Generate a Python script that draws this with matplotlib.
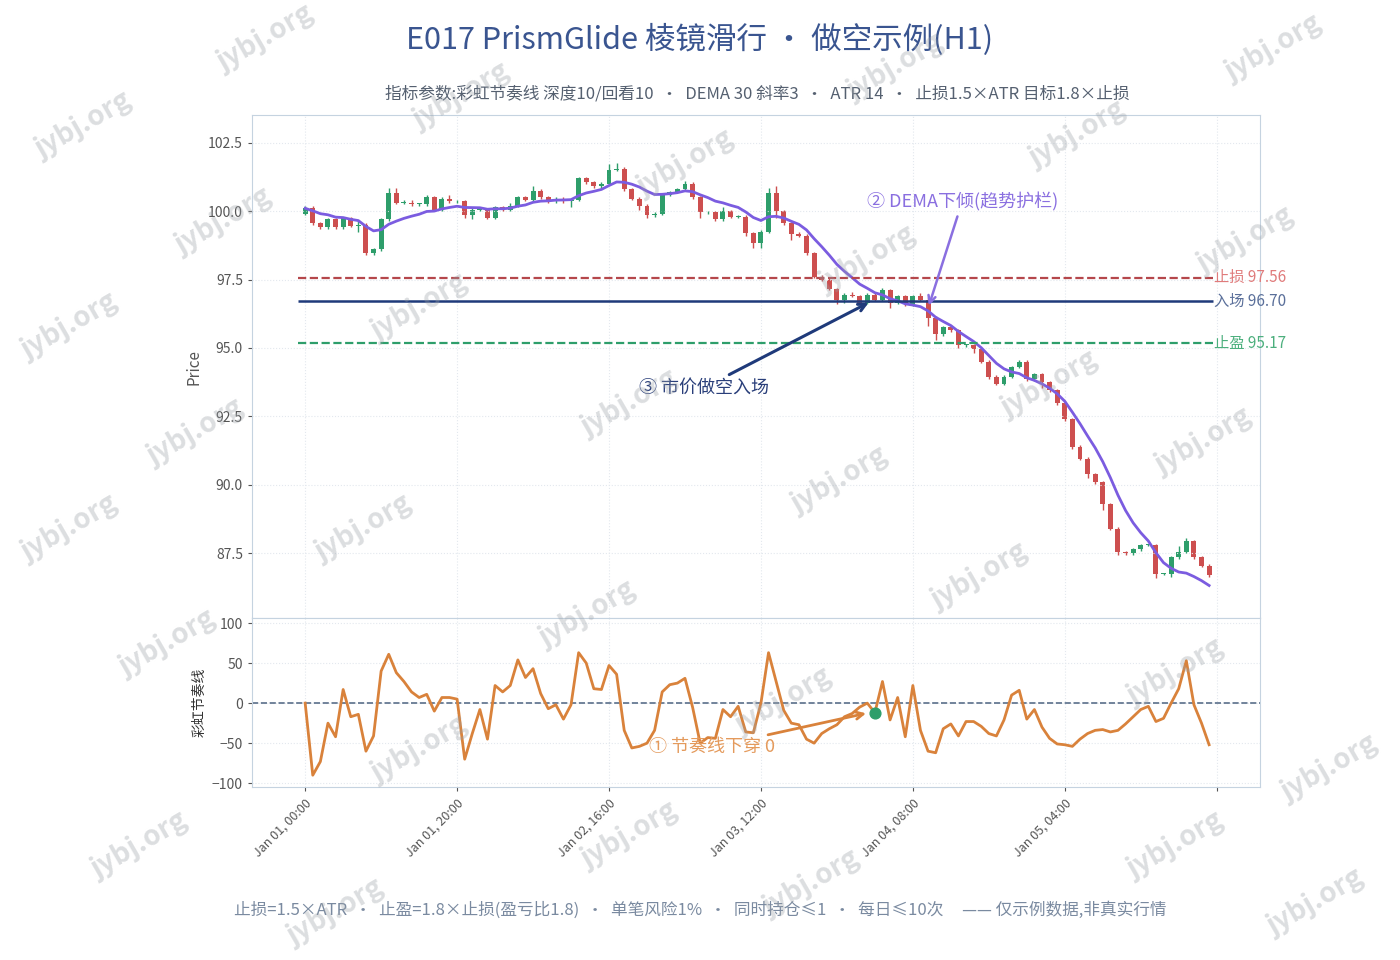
import numpy as np
import pandas as pd
import matplotlib
matplotlib.use('Agg')
import matplotlib.pyplot as plt

plt.rcParams['font.family'] = ['Noto Sans CJK SC', 'DejaVu Sans']
plt.rcParams['font.weight'] = 'light'

# 收盘价 (H1, 120 根)
close = [100.1, 99.55, 99.4, 99.7, 99.4, 99.75, 99.45, 99.5, 98.45, 98.6,
         99.7, 100.65, 100.3, 100.3, 100.25, 100.25, 100.5, 100.05, 100.45, 100.35,
         100.35, 99.85, 100.05, 100.05, 99.75, 100.15, 100.05, 100.2, 100.5, 100.4,
         100.75, 100.5, 100.35, 100.45, 100.35, 100.4, 101.2, 101.05, 100.9, 101.0,
         101.5, 101.55, 100.8, 100.45, 100.2, 99.85, 99.9, 100.6, 100.7, 100.8,
         101.0, 100.5, 99.95, 99.95, 99.7, 100.0, 99.8, 99.8, 99.2, 98.85,
         99.25, 100.65, 100.0, 99.55, 99.15, 99.1, 98.45, 97.6, 97.5, 97.15,
         96.75, 96.95, 96.9, 96.65, 96.95, 96.75, 97.1, 96.65, 96.9, 96.6,
         96.9, 96.75, 96.1, 95.5, 95.75, 95.65, 95.1, 95.1, 94.95, 94.5,
         93.95, 93.7, 93.95, 94.3, 94.5, 93.85, 94.05, 93.75, 93.45, 93.0,
         92.4, 91.4, 90.95, 90.4, 90.1, 89.3, 88.4, 87.55, 87.5, 87.65,
         87.8, 87.8, 86.75, 86.75, 87.35, 87.55, 87.95, 87.35, 87.05, 86.7]
first_open = 99.9
# 影线长度
wick_up = [0.1, 0.1, 0.05, 0.05, 0.05, 0.05, 0.05, 0.15, 0.05, 0.05,
           0.05, 0.2, 0.2, 0.1, 0.1, 0.05, 0.1, 0.05, 0.05, 0.15,
           0.05, 0.05, 0.1, 0.05, 0.05, 0.05, 0.05, 0.1, 0.05, 0.05,
           0.15, 0.05, 0.05, 0.05, 0.05, 0.05, 0.05, 0.05, 0.05, 0.05,
           0.2, 0.2, 0.05, 0.05, 0.05, 0.05, 0.05, 0.05, 0.05, 0.05,
           0.1, 0.05, 0.05, 0.05, 0.05, 0.15, 0.05, 0.05, 0.05, 0.05,
           0.05, 0.2, 0.25, 0.05, 0.05, 0.1, 0.05, 0.05, 0.05, 0.05,
           0.05, 0.05, 0.1, 0.05, 0.05, 0.05, 0.1, 0.05, 0.05, 0.05,
           0.05, 0.1, 0.1, 0.05, 0.05, 0.05, 0.05, 0.05, 0.05, 0.05,
           0.05, 0.05, 0.05, 0.05, 0.05, 0.05, 0.05, 0.05, 0.05, 0.05,
           0.05, 0.05, 0.05, 0.05, 0.05, 0.05, 0.05, 0.05, 0.05, 0.05,
           0.05, 0.05, 0.05, 0.05, 0.05, 0.2, 0.1, 0.05, 0.05, 0.05]
wick_dn = [0.05, 0.05, 0.05, 0.05, 0.05, 0.05, 0.05, 0.2, 0.05, 0.05,
           0.05, 0.05, 0.05, 0.05, 0.05, 0.05, 0.05, 0.05, 0.05, 0.05,
           0.05, 0.1, 0.15, 0.05, 0.05, 0.05, 0.05, 0.05, 0.05, 0.05,
           0.05, 0.05, 0.05, 0.05, 0.05, 0.2, 0.05, 0.05, 0.05, 0.05,
           0.05, 0.05, 0.05, 0.05, 0.15, 0.1, 0.05, 0.05, 0.05, 0.05,
           0.05, 0.05, 0.2, 0.05, 0.05, 0.05, 0.05, 0.05, 0.1, 0.2,
           0.2, 0.05, 0.25, 0.05, 0.2, 0.05, 0.05, 0.05, 0.05, 0.05,
           0.15, 0.1, 0.05, 0.05, 0.05, 0.05, 0.05, 0.2, 0.05, 0.05,
           0.05, 0.05, 0.3, 0.2, 0.05, 0.05, 0.1, 0.05, 0.15, 0.05,
           0.1, 0.05, 0.05, 0.05, 0.05, 0.05, 0.05, 0.2, 0.05, 0.1,
           0.05, 0.1, 0.05, 0.15, 0.05, 0.2, 0.05, 0.1, 0.05, 0.05,
           0.05, 0.05, 0.15, 0.05, 0.1, 0.05, 0.05, 0.05, 0.05, 0.05]
# 彩虹节奏线
rhythm = [0, -90, -73, -25, -42, 17, -17, -14, -60, -41,
          40, 61, 38, 27, 14, 7, 11, -10, 7, 7,
          5, -70, -38, -8, -45, 22, 14, 22, 54, 32,
          43, 12, -7, -2, -20, -2, 63, 50, 18, 17,
          47, 36, -34, -56, -54, -50, -34, 14, 23, 25,
          31, -5, -50, -43, -44, -8, -17, -4, -36, -37,
          0, 63, 27, -9, -25, -27, -45, -50, -38, -32,
          -27, -17, -13, -5, 0, -12, 27, -21, 7, -42,
          22, -34, -60, -62, -32, -26, -41, -23, -23, -29,
          -38, -41, -21, 10, 16, -20, -8, -30, -44, -51,
          -52, -54, -45, -38, -34, -33, -36, -34, -26, -17,
          -8, -4, -23, -19, 0, 18, 53, -2, -25, -52]
stop_px, entry_px, target_px = 97.56, 96.70, 95.17
entry_idx = 75
tick_hours = [0, 20, 40, 60, 80, 100, 120]
tick_labels = ['Jan 01, 00:00', 'Jan 01, 20:00', 'Jan 02, 16:00', 'Jan 03, 12:00',
               'Jan 04, 08:00', 'Jan 05, 04:00', '']

close = np.array(close)
opn = np.concatenate([[first_open], close[:-1]])
hi = np.maximum(opn, close) + np.array(wick_up)
lo = np.minimum(opn, close) - np.array(wick_dn)
x = np.arange(len(close))

s = pd.Series(close)
e1 = s.ewm(span=22, adjust=False).mean()
e2 = e1.ewm(span=22, adjust=False).mean()
dema = 2 * e1 - e2

GREEN, RED = '#2e9e6b', '#cd4f4f'
FRAME = '#c5d3e0'

fig = plt.figure(figsize=(14, 9.6), dpi=100)
ax = fig.add_axes([0.18, 0.356, 0.72, 0.524])
ax2 = fig.add_axes([0.18, 0.18, 0.72, 0.176], sharex=ax)

for a in (ax, ax2):
    a.grid(True, color='#e3e8ee', ls=':', lw=0.8)
    for sp in a.spines.values():
        sp.set_color(FRAME)
    a.tick_params(colors='#555555', labelsize=10, length=3)

for i in x:
    c = GREEN if close[i] >= opn[i] else RED
    ax.vlines(i, lo[i], hi[i], color=c, lw=1)
    h = abs(close[i] - opn[i])
    ax.bar(i, max(h, 0.03), bottom=min(opn[i], close[i]), width=0.65, color=c)
ax.plot(x, dema, color='#7b5ce0', lw=2)

ax.hlines(stop_px, -1, 119.5, colors='#b5474b', ls='--', lw=1.6)
ax.hlines(entry_px, -1, 119.5, colors='#1f3a7a', lw=1.8)
ax.hlines(target_px, -1, 119.5, colors='#2e9e6b', ls='--', lw=1.6)
ax.text(119.6, stop_px, f'止损 {stop_px:.2f}', color='#e07b7b', va='center', fontsize=11)
ax.text(119.6, entry_px, f'入场 {entry_px:.2f}', color='#5a6f9a', va='center', fontsize=11)
ax.text(119.6, target_px, f'止盈 {target_px:.2f}', color='#4caf7d', va='center', fontsize=11)

ax.annotate('② DEMA下倾(趋势护栏)', xy=(82, 96.45), xytext=(86.5, 100.35),
            color='#8a6fe0', fontsize=13, ha='center', va='center',
            arrowprops=dict(arrowstyle='->', color='#8a6fe0', lw=1.8))
ax.annotate('③ 市价做空入场', xy=(74.5, 96.7), xytext=(52.5, 93.55),
            color='#2a3f7a', fontsize=13, ha='center', va='center',
            arrowprops=dict(arrowstyle='->', color='#1f3a7a', lw=2.2))

ax.set_ylim(85.13, 103.5)
ax.set_yticks([87.5, 90, 92.5, 95, 97.5, 100, 102.5])
ax.set_ylabel('Price', color='#555555', fontsize=11)
ax.tick_params(axis='x', labelbottom=False, length=0)

ax2.axhline(0, color='#5a6f8a', ls='--', lw=1.2)
ax2.plot(x, rhythm, color='#d9823b', lw=2)
ax2.scatter([entry_idx], [rhythm[entry_idx]], color='#2e9e6b', s=60, zorder=5)
ax2.annotate('① 节奏线下穿 0', xy=(entry_idx - 0.8, rhythm[entry_idx]), xytext=(53.5, -55),
             color='#e49a5c', fontsize=13, ha='center', va='center',
             arrowprops=dict(arrowstyle='->', color='#d9823b', lw=2))
ax2.set_ylim(-105, 106)
ax2.set_yticks([-100, -50, 0, 50, 100])
ax2.set_ylabel('彩虹节奏线', color='#333333', fontsize=10)
ax2.set_xlim(-7, 125.7)
ax2.set_xticks(tick_hours)
ax2.set_xticklabels(tick_labels, rotation=45, ha='right', rotation_mode='anchor', fontsize=9)

fig.text(0.5, 0.958, 'E017 PrismGlide 棱镜滑行 · 做空示例(H1)', ha='center', va='center',
         fontsize=22, color='#3a5590')
fig.text(0.541, 0.902, '指标参数:彩虹节奏线 深度10/回看10  ·  DEMA 30 斜率3  ·  ATR 14  ·  止损1.5×ATR 目标1.8×止损',
         ha='center', va='center', fontsize=12, color='#556070')
fig.text(0.5, 0.052, '止损=1.5×ATR  ·  止盈=1.8×止损(盈亏比1.8)  ·  单笔风险1%  ·  同时持仓≤1  ·  每日≤10次     —— 仅示例数据,非真实行情',
         ha='center', va='center', fontsize=12, color='#7a8aa0')

for wx, wy in [(0.19, 0.96), (0.06, 0.87), (0.16, 0.77), (0.33, 0.9), (0.49, 0.83),
               (0.64, 0.93), (0.62, 0.73), (0.77, 0.86), (0.91, 0.95), (0.89, 0.75),
               (0.05, 0.66), (0.14, 0.55), (0.3, 0.68), (0.45, 0.58), (0.6, 0.5),
               (0.75, 0.6), (0.86, 0.54), (0.26, 0.45), (0.42, 0.36), (0.56, 0.27),
               (0.7, 0.4), (0.84, 0.3), (0.12, 0.33), (0.3, 0.22), (0.45, 0.13),
               (0.1, 0.12), (0.58, 0.08), (0.24, 0.05), (0.84, 0.12), (0.95, 0.2),
               (0.94, 0.06), (0.05, 0.45)]:
    fig.text(wx, wy, 'jybj.org', rotation=30, fontsize=20, color='#9aa0a6', alpha=0.35,
             ha='center', va='center', fontweight='bold')

fig.savefig('out.png', dpi=100, facecolor='white')
